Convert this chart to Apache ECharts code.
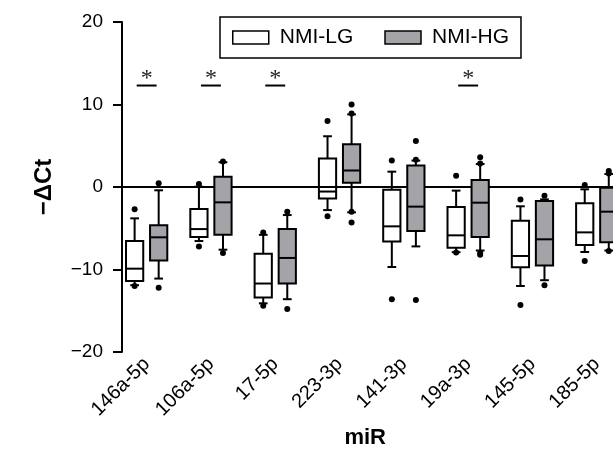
<!DOCTYPE html>
<html>
<head>
<meta charset="utf-8">
<script src="https://cdn.jsdelivr.net/npm/echarts@6/dist/echarts.min.js"></script>
<style>html,body{margin:0;padding:0;background:#fff}#c{width:613px;height:450px}</style>
</head>
<body>
<div id="c"></div>
<script>
// ---- data ----
const categories = ['146a-5p', '106a-5p', '17-5p', '223-3p', '141-3p', '19a-3p', '145-5p', '185-5p'];
// [lower whisker, Q1, median, Q3, upper whisker]
const lgStats = [
  [-11.9, -11.4, -9.9, -6.55, -3.8],
  [-6.55, -6.05, -5.1, -2.67, 0.04],
  [-14.1, -13.4, -11.7, -8.1, -5.8],
  [-2.8, -1.4, -0.55, 3.45, 6.15],
  [-9.7, -6.6, -4.77, -0.32, 1.86],
  [-7.9, -7.35, -5.86, -2.42, -0.44],
  [-12.0, -9.74, -8.36, -4.08, -2.34],
  [-7.88, -7.03, -5.5, -1.98, -0.28]
];
const hgStats = [
  [-11.1, -8.9, -6.1, -4.65, -0.4],
  [-7.6, -5.8, -1.86, 1.25, 3.0],
  [-13.6, -11.7, -8.6, -5.1, -3.4],
  [-3.07, 0.53, 2.0, 5.17, 8.8],
  [-7.2, -5.33, -2.38, 2.6, 3.2],
  [-7.7, -6.06, -1.9, 0.85, 2.79],
  [-11.3, -9.5, -6.34, -1.7, -1.5],
  [-7.7, -6.7, -2.99, -0.08, 1.58]
];
const lgOutliers = [
  [-2.7, -12.0],
  [0.36, -7.2],
  [-5.5, -14.4],
  [8.0, -3.55],
  [3.2, -13.6],
  [1.37, -7.95],
  [-1.5, -14.3],
  [0.24, -8.97]
];
const hgOutliers = [
  [0.45, -12.2],
  [3.1, -8.0],
  [-3.0, -14.8],
  [10.0, 8.9, -3.0, -4.3],
  [5.58, 3.3, -13.7],
  [3.6, 2.85, -8.0, -8.2],
  [-1.05, -11.9],
  [1.94, 1.65, -7.75]
];
const sigCategories = ['146a-5p', '106a-5p', '17-5p', '19a-3p'];
const sigLevel = 12.3;
const seriesNames = ['NMI-LG', 'NMI-HG'];
const yMin = -20, yMax = 20, yStep = 10;

// ---- chart ----
const LG_FILL = 'rgba(255,255,255,0)';
const HG_FILL = '#a3a3a8';
const LW = 2;
const OFF = 0.187;

function ls() { return { stroke: '#000', lineWidth: LW }; }

function makeBoxRender(offFrac, fill) {
  return function (params, api) {
    const cat = api.value(0);
    const band = api.size([1, 0])[0];
    const cx = api.coord([cat, 0])[0] + offFrac * band;
    const hw = band * 0.134, cw = band * 0.068;
    const y = i => api.coord([cat, api.value(i)])[1];
    const yLo = y(1), yQ1 = y(2), yMed = y(3), yQ3 = y(4), yHi = y(5);
    return {
      type: 'group',
      children: [
        { type: 'line', shape: { x1: cx, y1: yHi, x2: cx, y2: yQ3 }, style: ls() },
        { type: 'line', shape: { x1: cx, y1: yQ1, x2: cx, y2: yLo }, style: ls() },
        { type: 'line', shape: { x1: cx - cw, y1: yHi, x2: cx + cw, y2: yHi }, style: ls() },
        { type: 'line', shape: { x1: cx - cw, y1: yLo, x2: cx + cw, y2: yLo }, style: ls() },
        { type: 'rect', shape: { x: cx - hw, y: yQ3, width: 2 * hw, height: yQ1 - yQ3 }, style: { fill: fill, stroke: '#000', lineWidth: LW } },
        { type: 'line', shape: { x1: cx - hw, y1: yMed, x2: cx + hw, y2: yMed }, style: ls() }
      ]
    };
  };
}
function makeDotRender(offFrac) {
  return function (params, api) {
    const cat = api.value(0);
    const band = api.size([1, 0])[0];
    const p = api.coord([cat, api.value(1)]);
    return { type: 'circle', shape: { cx: p[0] + offFrac * band, cy: p[1], r: 3 }, style: { fill: '#000' } };
  };
}
function sigRender(params, api) {
  const cat = api.value(0);
  const band = api.size([1, 0])[0];
  const p = api.coord([cat, api.value(1)]);
  const hw = band * 0.155;
  return {
    type: 'group',
    children: [
      { type: 'line', shape: { x1: p[0] - hw, y1: p[1], x2: p[0] + hw, y2: p[1] }, style: { stroke: '#000', lineWidth: 2 } },
      { type: 'text', style: { text: '*', x: p[0], y: p[1] - 7, align: 'center', verticalAlign: 'middle', fontSize: 24, fontFamily: 'Liberation Serif', fill: '#222' } }
    ]
  };
}

const lgData = categories.map((c, i) => [i].concat(lgStats[i]));
const hgData = categories.map((c, i) => [i].concat(hgStats[i]));
const lgDots = [], hgDots = [];
lgOutliers.forEach((arr, i) => arr.forEach(v => lgDots.push([i, v])));
hgOutliers.forEach((arr, i) => arr.forEach(v => hgDots.push([i, v])));
const sigData = sigCategories.map(c => [categories.indexOf(c), sigLevel]);

const chart = echarts.init(document.getElementById('c'), null, { renderer: 'canvas' });
chart.setOption({
  animation: false,
  backgroundColor: '#fff',
  textStyle: { fontFamily: 'Liberation Sans, Arial, sans-serif' },
  grid: { left: 114.5, right: -15.9, top: 22, bottom: 98, outerBoundsMode: 'none', containLabel: false },
  legend: {
    left: 220, top: 17,
    padding: [10, 12, 10, 12],
    backgroundColor: '#fff',
    borderColor: '#000', borderWidth: 1.5,
    itemWidth: 36, itemHeight: 13, itemGap: 31,
    textStyle: { fontSize: 21, color: '#000', padding: [0, 0, 0, 6] },
    data: [
      { name: seriesNames[0], icon: 'rect', itemStyle: { color: '#fff', borderColor: '#000', borderWidth: 1.5 } },
      { name: seriesNames[1], icon: 'rect', itemStyle: { color: HG_FILL, borderColor: '#000', borderWidth: 1.5 } }
    ]
  },
  xAxis: {
    type: 'category',
    data: categories,
    boundaryGap: true,
    axisLine: { show: false, onZero: false },
    axisTick: { show: false },
    axisLabel: { rotate: 45, fontSize: 20, color: '#000', margin: 9, interval: 0 },
    name: 'miR',
    nameLocation: 'middle',
    nameGap: 73,
    nameTextStyle: { fontSize: 22, fontWeight: 'bold', color: '#000', padding: [0, 13, 0, 0] },
    splitLine: { show: false }
  },
  yAxis: {
    type: 'value',
    min: yMin, max: yMax, interval: yStep,
    offset: -7.5,
    axisLine: { show: true, lineStyle: { color: '#000', width: 2 } },
    axisTick: { show: true, length: 9, lineStyle: { color: '#000', width: 2 } },
    axisLabel: { fontSize: 19, color: '#000', margin: 19, formatter: v => String(v).replace('-', '\u2212') },
    splitLine: { show: false },
    name: '\u2212\u0394Ct',
    nameLocation: 'middle',
    nameGap: 66,
    nameTextStyle: { fontSize: 24, fontWeight: 'bold', color: '#000' }
  },
  series: [
    {
      type: 'line', name: 'zero', data: [], silent: true,
      markLine: { silent: true, symbol: 'none', z: 1, label: { show: false }, lineStyle: { color: '#000', width: 2, type: 'solid' }, data: [{ yAxis: 0 }] }
    },
    { type: 'custom', name: seriesNames[0], z: 3, data: lgData, renderItem: makeBoxRender(-OFF, LG_FILL), encode: { x: 0, y: [1, 2, 3, 4, 5] }, itemStyle: { color: '#fff' } },
    { type: 'custom', name: seriesNames[1], z: 3, data: hgData, renderItem: makeBoxRender(OFF, HG_FILL), encode: { x: 0, y: [1, 2, 3, 4, 5] }, itemStyle: { color: HG_FILL } },
    { type: 'custom', name: 'LG outliers', z: 4, data: lgDots, renderItem: makeDotRender(-OFF), encode: { x: 0, y: 1 } },
    { type: 'custom', name: 'HG outliers', z: 4, data: hgDots, renderItem: makeDotRender(OFF), encode: { x: 0, y: 1 } },
    { type: 'custom', name: 'significance', z: 4, data: sigData, renderItem: sigRender, encode: { x: 0, y: 1 } }
  ]
});
</script>
</body>
</html>
